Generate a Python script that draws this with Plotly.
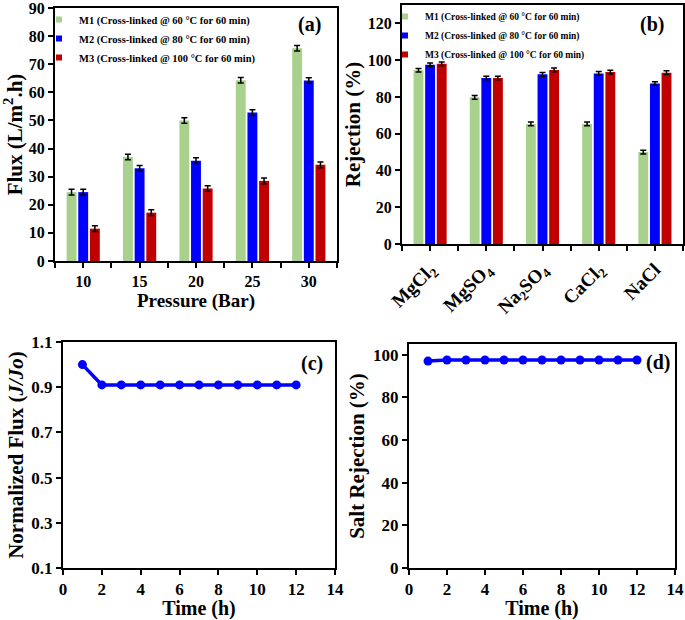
import plotly.graph_objects as go

# ---------------- data ----------------
pressure_labels = ["10", "15", "20", "25", "30"]
flux_m1 = [24.5, 37.0, 50.0, 64.3, 75.7]
flux_m2 = [24.5, 33.0, 35.7, 52.8, 64.2]
flux_m3 = [11.5, 17.2, 25.8, 28.5, 34.2]
flux_err_m1 = [1.0, 1.0, 1.0, 1.0, 1.0]
flux_err_m2 = [1.0, 1.0, 1.0, 1.0, 1.0]
flux_err_m3 = [1.0, 1.0, 1.0, 1.0, 1.0]

salt_labels = ["MgCl<sub>2</sub>", "MgSO<sub>4</sub>", "Na<sub>2</sub>SO<sub>4</sub>",
               "CaCl<sub>2</sub>", "NaCl"]
rej_m1 = [94.5, 79.8, 65.3, 65.3, 50.0]
rej_m2 = [97.5, 90.3, 92.3, 92.8, 87.3]
rej_m3 = [98.0, 90.3, 94.7, 93.5, 93.2]
rej_err_m1 = [1.0, 1.0, 1.0, 1.0, 1.0]
rej_err_m2 = [1.0, 1.0, 1.0, 1.0, 1.0]
rej_err_m3 = [1.0, 1.0, 1.0, 1.0, 1.0]

time_h = [1, 2, 3, 4, 5, 6, 7, 8, 9, 10, 11, 12]
norm_flux = [1.00, 0.91, 0.91, 0.91, 0.91, 0.91, 0.91, 0.91, 0.91, 0.91, 0.91, 0.91]
salt_rej = [97.0, 97.5, 97.5, 97.5, 97.5, 97.5, 97.5, 97.5, 97.5, 97.5, 97.5, 97.5]

series_names = ["M1 (Cross-linked @ 60 °C for 60 min)",
                "M2 (Cross-linked @ 80 °C for 60 min)",
                "M3 (Cross-linked @ 100 °C for 60 min)"]
colors = ["#A9D18E", "#0000FF", "#C00000"]

W, H = 685, 620
FONT = "Liberation Serif"

fig = go.Figure()

def px2x(p):
    return p / W

def px2y(p):
    return 1 - p / H

def bfont(size):
    return dict(size=size, family=FONT, color="black", weight="bold")

# --------------- panel a -----------------
xa = list(range(len(pressure_labels)))
for vals, errs, col in zip([flux_m1, flux_m2, flux_m3],
                           [flux_err_m1, flux_err_m2, flux_err_m3], colors):
    fig.add_trace(go.Bar(x=xa, y=vals, marker=dict(color=col, line=dict(width=0)),
                         error_y=dict(type="data", array=errs, color="black",
                                      thickness=1.5, width=3),
                         xaxis="x", yaxis="y", showlegend=False))
for name, col in zip(series_names, colors):
    fig.add_trace(go.Scatter(x=[None], y=[None], mode="markers", name=name,
                             marker=dict(symbol="square", size=6, color=col),
                             xaxis="x", yaxis="y", legend="legend"))

# --------------- panel b -----------------
xb = list(range(len(salt_labels)))
for vals, errs, col in zip([rej_m1, rej_m2, rej_m3],
                           [rej_err_m1, rej_err_m2, rej_err_m3], colors):
    fig.add_trace(go.Bar(x=xb, y=vals, marker=dict(color=col, line=dict(width=0)),
                         error_y=dict(type="data", array=errs, color="black",
                                      thickness=1.5, width=3),
                         xaxis="x2", yaxis="y2", showlegend=False))
for name, col in zip(series_names, colors):
    fig.add_trace(go.Scatter(x=[None], y=[None], mode="markers", name=name,
                             marker=dict(symbol="square", size=6, color=col),
                             xaxis="x2", yaxis="y2", legend="legend2"))

# --------------- panel c, d -----------------
fig.add_trace(go.Scatter(x=time_h, y=norm_flux, mode="lines+markers",
                         line=dict(color="#0000FF", width=3.5),
                         marker=dict(color="#0000FF", size=9),
                         xaxis="x3", yaxis="y3", showlegend=False))
fig.add_trace(go.Scatter(x=time_h, y=salt_rej, mode="lines+markers",
                         line=dict(color="#0000FF", width=3.5),
                         marker=dict(color="#0000FF", size=9),
                         xaxis="x4", yaxis="y4", showlegend=False))


def half_ticks(labels):
    vals, texts = [], []
    n = len(labels)
    for i in range(n):
        vals += [i - 0.5, i]
        texts += ["", labels[i]]
    vals.append(n - 0.5)
    texts.append("")
    return vals, texts


base = dict(showline=True, linecolor="black", linewidth=2, mirror=True,
            ticks="outside", ticklen=5, tickwidth=2, tickcolor="black",
            showgrid=False, zeroline=False, automargin=False,
            ticklabeloverflow="allow")
top_ax = dict(base, tickfont=bfont(16))
bot_ax = dict(base, tickfont=bfont(17))

tva, tta = half_ticks(pressure_labels)
tvb, ttb = half_ticks(salt_labels)

fig.update_layout(
    template="none",
    width=W, height=H,
    margin=dict(l=0, r=0, t=0, b=0, pad=0),
    paper_bgcolor="white", plot_bgcolor="white",
    font=dict(family=FONT, color="black", weight="bold"),
    barmode="group", bargap=0.38, bargroupgap=0.15,
    xaxis=dict(domain=[px2x(55), px2x(337)], range=[-0.5, 4.5],
               tickmode="array", tickvals=tva, ticktext=tta,
               title=dict(text="Pressure (Bar)", font=bfont(19), standoff=3),
               anchor="y", **top_ax),
    yaxis=dict(domain=[px2y(261), px2y(8)], range=[0, 90], dtick=10,
               title=dict(text="Flux (L/m<sup>2</sup>.h)", font=bfont(21), standoff=1),
               anchor="x", **top_ax),
    xaxis2=dict(domain=[px2x(402), px2x(683)], range=[-0.5, 4.5],
                tickmode="array", tickvals=tvb, ticktext=ttb, tickangle=-45,
                anchor="y2", **dict(base, tickfont=bfont(19))),
    yaxis2=dict(domain=[px2y(244), px2y(5)], range=[0, 130], tickvals=[0, 20, 40, 60, 80, 100, 120],
                title=dict(text="Rejection (%)", font=bfont(21), standoff=1),
                anchor="x2", **top_ax),
    xaxis3=dict(domain=[px2x(63), px2x(335)], range=[0, 14], dtick=2,
                title=dict(text="Time (h)", font=bfont(20), standoff=3),
                anchor="y3", **bot_ax),
    yaxis3=dict(domain=[px2y(568), px2y(342)], range=[0.1, 1.1], dtick=0.2, tick0=0.1,
                tickformat=".1f",
                title=dict(text="Normalized Flux (<i>J/Jo</i>)", font=bfont(21), standoff=2),
                anchor="x3", **bot_ax),
    xaxis4=dict(domain=[px2x(409), px2x(675)], range=[0, 14], dtick=2,
                title=dict(text="Time (h)", font=bfont(20), standoff=3),
                anchor="y4", **bot_ax),
    yaxis4=dict(domain=[px2y(568), px2y(344)], range=[0, 105], dtick=20,
                title=dict(text="Salt Rejection (%)", font=bfont(21), standoff=3),
                anchor="x4", **bot_ax),
    legend=dict(x=px2x(39), y=px2y(5), xanchor="left", yanchor="top",
                bgcolor="rgba(0,0,0,0)", borderwidth=0,
                font=bfont(10.5), tracegroupgap=0),
    legend2=dict(x=px2x(385), y=px2y(2), xanchor="left", yanchor="top",
                 bgcolor="rgba(0,0,0,0)", borderwidth=0,
                 font=bfont(9.5), tracegroupgap=0),
    annotations=[
        dict(text="(a)", x=px2x(309), y=px2y(25), xref="paper", yref="paper",
             xanchor="center", yanchor="middle", showarrow=False, font=bfont(20)),
        dict(text="(b)", x=px2x(652), y=px2y(25), xref="paper", yref="paper",
             xanchor="center", yanchor="middle", showarrow=False, font=bfont(20)),
        dict(text="(c)", x=px2x(312), y=px2y(363), xref="paper", yref="paper",
             xanchor="center", yanchor="middle", showarrow=False, font=bfont(20)),
        dict(text="(d)", x=px2x(658), y=px2y(362), xref="paper", yref="paper",
             xanchor="center", yanchor="middle", showarrow=False, font=bfont(20)),
    ],
)

fig.write_html("out.html",
               config={"displayModeBar": False},
               post_script="document.body.style.margin='0';document.body.style.overflow='hidden';")
